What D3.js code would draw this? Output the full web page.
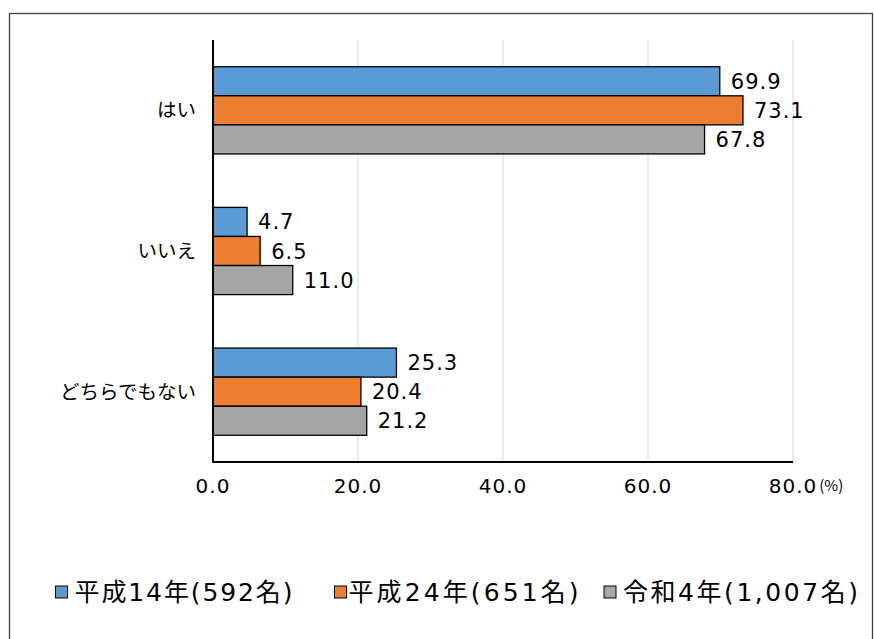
<!DOCTYPE html>
<html><head><meta charset="utf-8">
<script src="https://cdn.jsdelivr.net/npm/d3@7"></script>
<style>body{margin:0;background:#fff;}svg{display:block;font-family:"Noto Sans CJK JP","Noto Sans",sans-serif;}
.num{font-family:"DejaVu Sans","Noto Sans CJK JP",sans-serif;}
.leg{font-family:"DejaVu Sans","Noto Sans CJK JP",sans-serif;}</style>
</head><body>
<script>
const categories = ["はい", "いいえ", "どちらでもない"];
const seriesNames = ["平成14年(592名)", "平成24年(651名)", "令和4年(1,007名)"];
const seriesColors = ["#5B9BD5", "#ED7D31", "#A5A5A5"];
const h14 = [69.9, 4.7, 25.3];
const h24 = [73.1, 6.5, 20.4];
const r4 = [67.8, 11.0, 21.2];
const tickValues = [0, 20, 40, 60, 80];
const seriesValues = [h14, h24, r4];

(function () {
const W = 874, H = 639;
const svg = d3.select("body").append("svg").attr("width", W).attr("height", H);
svg.append("rect").attr("x", 9.5).attr("y", 13.5).attr("width", 863).attr("height", 640)
  .attr("fill", "none").attr("stroke", "#404040").attr("stroke-width", 1.3);

const mLeft = 213, mRight = 793, mTop = 40, mBottom = 462;
const x = d3.scaleLinear().domain([0, 80]).range([mLeft, mRight]);
const y = d3.scaleBand().domain(categories).range([mTop, mBottom]).paddingInner(0.38).paddingOuter(0.19);
const yi = d3.scaleBand().domain(d3.range(3)).range([0, y.bandwidth()]);

// gridlines
svg.append("g").selectAll("line").data(tickValues.slice(1)).join("line")
  .attr("x1", d => x(d)).attr("x2", d => x(d)).attr("y1", mTop).attr("y2", mBottom)
  .attr("stroke", "#d9d9d9").attr("stroke-width", 1);

// bars
seriesValues.forEach((vals, si) => {
  const g = svg.append("g");
  g.selectAll("rect").data(vals).join("rect")
    .attr("x", x(0)).attr("y", (d, i) => y(categories[i]) + yi(si))
    .attr("width", d => x(d) - x(0)).attr("height", yi.bandwidth())
    .attr("fill", seriesColors[si]).attr("stroke", "#000").attr("stroke-width", 1.3);
  g.selectAll("text").data(vals).join("text").attr("class", "num")
    .attr("x", d => x(d) + 11).attr("y", (d, i) => y(categories[i]) + yi(si) + yi.bandwidth() / 2)
    .attr("dy", "0.36em").attr("font-size", 21).attr("letter-spacing", 1).attr("fill", "#000")
    .text(d => d.toFixed(1));
});

// axes
svg.append("line").attr("x1", mLeft).attr("x2", mLeft).attr("y1", mTop).attr("y2", mBottom + 1)
  .attr("stroke", "#000").attr("stroke-width", 2);
svg.append("line").attr("x1", mLeft).attr("x2", mRight).attr("y1", mBottom).attr("y2", mBottom)
  .attr("stroke", "#000").attr("stroke-width", 2);

// tick labels
const tl = svg.append("g").selectAll("text").data(tickValues).join("text").attr("class", "num")
  .attr("x", d => x(d)).attr("y", 492.5).attr("text-anchor", "middle")
  .attr("font-size", 20).attr("letter-spacing", 1).text(d => d.toFixed(1));
const lastEnd = x(80) + tl.nodes()[tickValues.length - 1].getComputedTextLength() / 2;
svg.append("text").attr("x", lastEnd + 2).attr("y", 491).attr("font-size", 15).text("(%)");

// category labels
svg.append("g").selectAll("text").data(categories).join("text")
  .attr("x", mLeft - 17).attr("y", d => y(d) + y.bandwidth() / 2).attr("dy", "0.36em")
  .attr("text-anchor", "end").attr("font-size", 19.5).text(d => d);

// legend
const legX = [55, 334, 603.5];
const legW = [218, 230, 235];
const lg = svg.append("g").selectAll("g").data(seriesNames).join("g")
  .attr("transform", (d, i) => `translate(${legX[i]},592)`);
lg.append("rect").attr("x", 0.5).attr("y", -6).attr("width", 12).attr("height", 12)
  .attr("fill", (d, i) => seriesColors[i]).attr("stroke", "#000").attr("stroke-width", 1);
lg.append("text").attr("class", "leg").attr("x", (d, i) => i === 1 ? 14.5 : 19.5).attr("dy", "0.36em")
  .attr("font-size", 25).attr("textLength", (d, i) => legW[i]).attr("lengthAdjust", "spacing")
  .text(d => d);
})();
</script>
</body></html>
